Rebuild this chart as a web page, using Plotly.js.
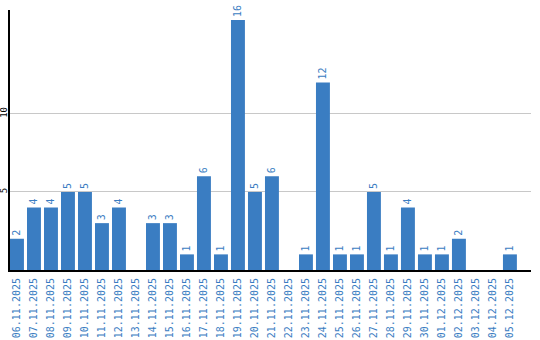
<!DOCTYPE html>
<html>
<head>
<meta charset="utf-8">
<script src="https://cdn.plot.ly/plotly-3.0.1.min.js"></script>
<style>html,body{margin:0;padding:0;background:#fff;}#chart{width:540px;height:340px;}</style>
</head>
<body>
<div id="chart"></div>
<script>
const dates = ["06.11.2025","07.11.2025","08.11.2025","09.11.2025","10.11.2025","11.11.2025","12.11.2025","13.11.2025","14.11.2025","15.11.2025","16.11.2025","17.11.2025","18.11.2025","19.11.2025","20.11.2025","21.11.2025","22.11.2025","23.11.2025","24.11.2025","25.11.2025","26.11.2025","27.11.2025","28.11.2025","29.11.2025","30.11.2025","01.12.2025","02.12.2025","03.12.2025","04.12.2025","05.12.2025"];
const counts = [2,4,4,5,5,3,4,0,3,3,1,6,1,16,5,6,0,1,12,1,1,5,1,4,1,1,2,0,0,1];
const yTickVals = [5,10];

const labels = counts.map(v => v > 0 ? String(v) : "");
const mono = "DejaVu Sans Mono, monospace";
const blue = "#3a7dc2";

Plotly.newPlot("chart", [{
  type: "bar",
  x: dates,
  y: counts,
  marker: {color: blue},
  text: labels,
  textposition: "outside",
  textangle: -90,
  textfont: {family: mono, size: 10, color: blue},
  cliponaxis: false,
  constraintext: "none",
  hoverinfo: "none"
}], {
  width: 540, height: 340,
  margin: {l: 10, r: 9, t: 10, b: 70},
  paper_bgcolor: "#fff", plot_bgcolor: "#fff",
  showlegend: false,
  bargap: 0.18,
  xaxis: {
    type: "category",
    range: [-0.41, 30.24],
    tickangle: -90,
    tickfont: {family: mono, size: 10, color: blue},
    showline: true, linecolor: "#000", linewidth: 2,
    showgrid: false, ticks: "", zeroline: false,
    ticklabelstandoff: 2
  },
  yaxis: {
    range: [0, 16.64],
    tickvals: yTickVals,
    ticktext: yTickVals.map(String),
    tickangle: -90,
    tickfont: {family: mono, size: 9, color: "#000"},
    showline: true, linecolor: "#000", linewidth: 2,
    showgrid: true, gridcolor: "#c8c8c8", gridwidth: 1,
    zeroline: false, ticks: "",
    ticklabelstandoff: -3
  }
}, {staticPlot: true});
</script>
</body>
</html>
